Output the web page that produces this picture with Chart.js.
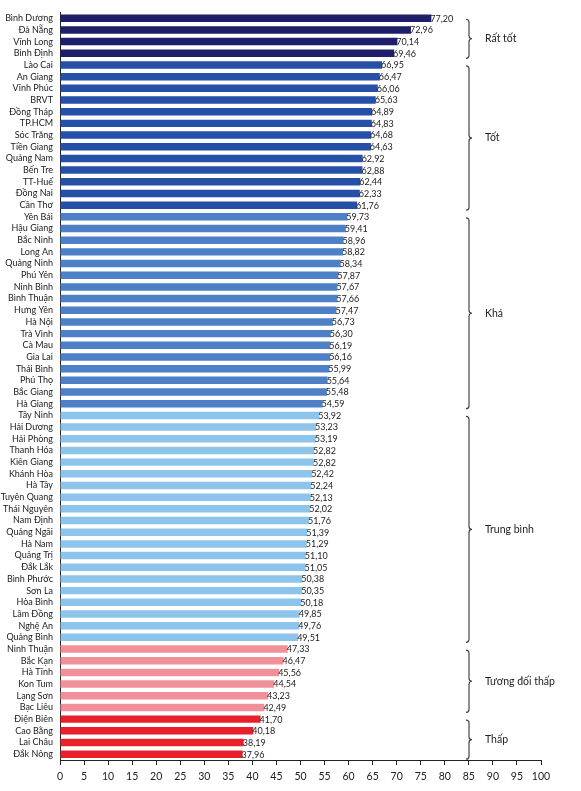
<!DOCTYPE html>
<html>
<head>
<meta charset="utf-8">
<script src="https://cdn.jsdelivr.net/npm/chart.js@4"></script>
<style>
html,body{margin:0;padding:0;background:#fff;}
#wrap{width:581px;height:791px;position:relative;}
</style>
</head>
<body>
<div id="wrap"><canvas id="c"></canvas></div>
<script>
// ---- Data ----
const groupNames = ["Rất tốt", "Tốt", "Khá", "Trung bình", "Tương đối thấp", "Thấp"];
const groupColors = ["#1f1e69", "#2650a8", "#4d80c6", "#8dc4eb", "#f2909a", "#e8202b"];

const rat_tot_names = ["Bình Dương", "Đà Nẵng", "Vĩnh Long", "Bình Định"];
const rat_tot_values = [77.20, 72.96, 70.14, 69.46];

const tot_names = ["Lào Cai", "An Giang", "Vĩnh Phúc", "BRVT", "Đồng Tháp", "TP.HCM", "Sóc Trăng", "Tiền Giang", "Quảng Nam", "Bến Tre", "TT-Huế", "Đồng Nai", "Cần Thơ"];
const tot_values = [66.95, 66.47, 66.06, 65.63, 64.89, 64.83, 64.68, 64.63, 62.92, 62.88, 62.44, 62.33, 61.76];

const kha_names = ["Yên Bái", "Hậu Giang", "Bắc Ninh", "Long An", "Quảng Ninh", "Phú Yên", "Ninh Bình", "Bình Thuận", "Hưng Yên", "Hà Nội", "Trà Vinh", "Cà Mau", "Gia Lai", "Thái Bình", "Phú Thọ", "Bắc Giang", "Hà Giang"];
const kha_values = [59.73, 59.41, 58.96, 58.82, 58.34, 57.87, 57.67, 57.66, 57.47, 56.73, 56.30, 56.19, 56.16, 55.99, 55.64, 55.48, 54.59];

const trung_binh_names = ["Tây Ninh", "Hải Dương", "Hải Phòng", "Thanh Hóa", "Kiên Giang", "Khánh Hòa", "Hà Tây", "Tuyên Quang", "Thái Nguyên", "Nam Định", "Quảng Ngãi", "Hà Nam", "Quảng Trị", "Đắk Lắk", "Bình Phước", "Sơn La", "Hòa Bình", "Lâm Đồng", "Nghệ An", "Quảng Bình"];
const trung_binh_values = [53.92, 53.23, 53.19, 52.82, 52.82, 52.42, 52.24, 52.13, 52.02, 51.76, 51.39, 51.29, 51.10, 51.05, 50.38, 50.35, 50.18, 49.85, 49.76, 49.51];

const tuong_doi_thap_names = ["Ninh Thuận", "Bắc Kạn", "Hà Tĩnh", "Kon Tum", "Lạng Sơn", "Bạc Liêu"];
const tuong_doi_thap_values = [47.33, 46.47, 45.56, 44.54, 43.23, 42.49];

const thap_names = ["Điện Biên", "Cao Bằng", "Lai Châu", "Đắk Nông"];
const thap_values = [41.70, 40.18, 38.19, 37.96];

const xTicks = [0,5,10,15,20,25,30,35,40,45,50,55,60,65,70,75,80,85,90,95,100];

// ---- Build ----
const groupsN = [rat_tot_names, tot_names, kha_names, trung_binh_names, tuong_doi_thap_names, thap_names];
const groupsV = [rat_tot_values, tot_values, kha_values, trung_binh_values, tuong_doi_thap_values, thap_values];
const labels = [].concat(...groupsN);
const values = [].concat(...groupsV);
const colors = [];
const groupRanges = [];
let idx = 0;
groupsN.forEach((g, gi) => {
  groupRanges.push([idx, idx + g.length - 1]);
  g.forEach(() => colors.push(groupColors[gi]));
  idx += g.length;
});

const FONT = "Lato, 'Open Sans', sans-serif";

const valueLabels = {
  id: 'valueLabels',
  afterDatasetsDraw(chart) {
    const ctx = chart.ctx;
    const meta = chart.getDatasetMeta(0);
    ctx.save();
    ctx.font = "9px " + FONT;
    ctx.fillStyle = "#222";
    ctx.textAlign = "left";
    ctx.textBaseline = "middle";
    meta.data.forEach((bar, i) => {
      const txt = values[i].toFixed(2).replace('.', ',');
      ctx.fillText(txt, bar.x - 1, bar.y + 0.5);
    });
    ctx.restore();
  }
};

const braces = {
  id: 'braces',
  afterDraw(chart) {
    const ctx = chart.ctx;
    const y = chart.scales.y;
    const bx = 469;
    ctx.save();
    ctx.strokeStyle = "#444";
    ctx.lineWidth = 1.2;
    groupRanges.forEach((r, gi) => {
      const top = y.getPixelForValue(r[0]) + 1;
      const bot = y.getPixelForValue(r[1]) + 5;
      const mid = (top + bot) / 2;
      const w = 3;
      ctx.beginPath();
      ctx.moveTo(bx - w, top);
      ctx.quadraticCurveTo(bx, top, bx, top + w);
      ctx.lineTo(bx, mid - w);
      ctx.quadraticCurveTo(bx, mid, bx + w, mid);
      ctx.quadraticCurveTo(bx, mid, bx, mid + w);
      ctx.lineTo(bx, bot - w);
      ctx.quadraticCurveTo(bx, bot, bx - w, bot);
      ctx.stroke();
      ctx.font = "10.5px " + FONT;
      ctx.fillStyle = "#222";
      ctx.textAlign = "left";
      ctx.textBaseline = "middle";
      ctx.fillText(groupNames[gi], 485, mid);
    });
    ctx.restore();
  }
};

new Chart(document.getElementById('c'), {
  type: 'bar',
  data: {
    labels: labels,
    datasets: [{
      data: values,
      backgroundColor: colors,
      borderWidth: 0,
      barPercentage: 0.64,
      categoryPercentage: 1.0
    }]
  },
  options: {
    indexAxis: 'y',
    responsive: true,
    maintainAspectRatio: false,
    animation: false,
    devicePixelRatio: 1,
    layout: { padding: { top: 2, right: 40, left: 0, bottom: 0 } },
    plugins: { legend: { display: false }, tooltip: { enabled: false } },
    scales: {
      x: {
        min: 0, max: 100,
        afterBuildTicks(scale) { scale.ticks = xTicks.map(v => ({ value: v })); },
        afterFit(scale) { scale.height = 31; },
        grid: { drawOnChartArea: false, drawTicks: true, tickLength: 5, color: "#222", tickColor: "#222" },
        border: { display: true, color: "#222", width: 1 },
        ticks: { font: { family: FONT, size: 10.5 }, color: "#222", padding: 5, maxRotation: 0, autoSkip: false }
      },
      y: {
        afterFit(scale) { scale.width = 60; },
        grid: { display: false, drawTicks: false },
        border: { display: true, color: "#222", width: 1 },
        ticks: { font: { family: FONT, size: 9 }, color: "#1a1a1a", padding: 7, autoSkip: false }
      }
    }
  },
  plugins: [valueLabels, braces]
});
</script>
</body>
</html>
